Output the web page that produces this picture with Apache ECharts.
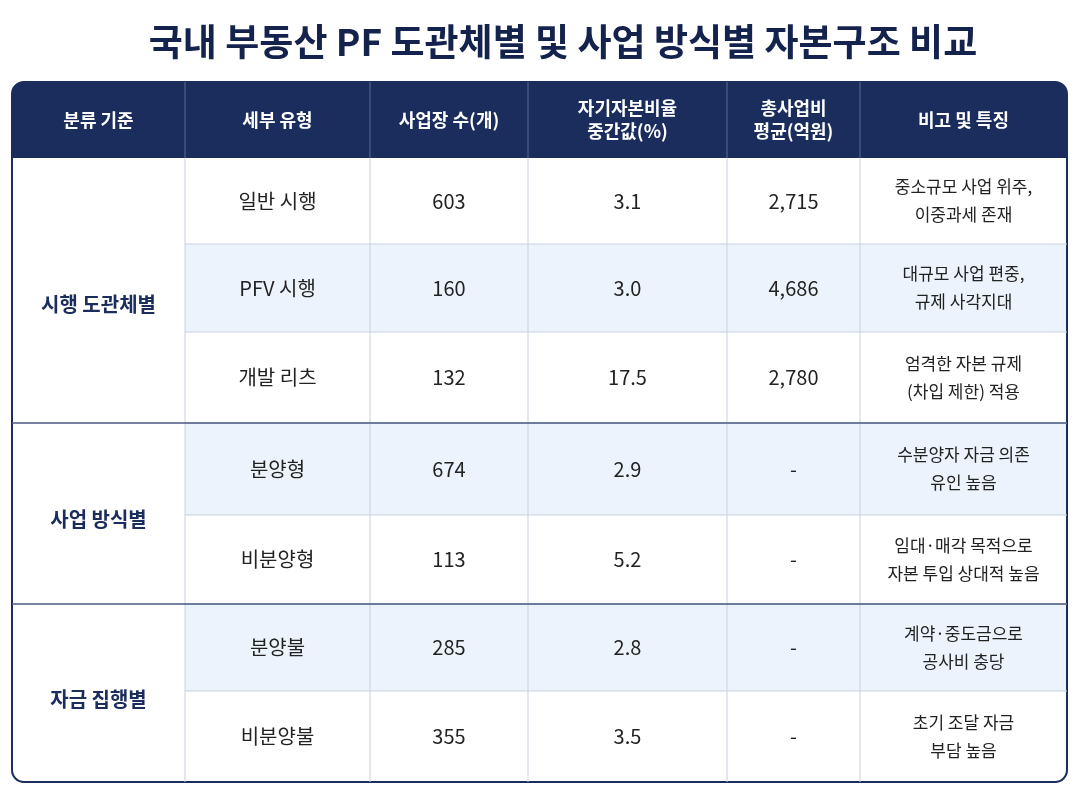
<!DOCTYPE html>
<html><head><meta charset="utf-8">
<script src="https://cdn.jsdelivr.net/npm/echarts@6/dist/echarts.min.js"></script>
<style>html,body{margin:0;padding:0;background:#fff}#c{width:1080px;height:810px}</style>
</head><body><div id="c"></div>
<script>
const title = '국내 부동산 PF 도관체별 및 사업 방식별 자본구조 비교';
const headers = ['분류 기준','세부 유형','사업장 수(개)','자기자본비율\n중간값(%)','총사업비\n평균(억원)','비고 및 특징'];
const groups = [['시행 도관체별',3],['사업 방식별',2],['자금 집행별',2]];
const types = ['일반 시행','PFV 시행','개발 리츠','분양형','비분양형','분양불','비분양불'];
const counts = [603,160,132,674,113,285,355];
const equity = ['3.1','3.0','17.5','2.9','5.2','2.8','3.5'];
const cost = ['2,715','4,686','2,780','-','-','-','-'];
const notes = ['중소규모 사업 위주,\n이중과세 존재','대규모 사업 편중,\n규제 사각지대','엄격한 자본 규제\n(차입 제한) 적용','수분양자 자금 의존\n유인 높음','임대·매각 목적으로\n자본 투입 상대적 높음','계약·중도금으로\n공사비 충당','초기 조달 자금\n부담 높음'];

const colX = [12,185,370,528,727,860,1067];
const headTop = 82, headBot = 158;
const rowY = [158,244,332,423,515,604,691,782];
const navy = '#1b2d5c', font = '"Noto Sans CJK KR","Noto Sans",sans-serif';
const g = [];
g.push({type:'rect',shape:{x:12,y:headTop,width:1055,height:rowY[7]-headTop,r:12},style:{fill:'#fff',stroke:navy,lineWidth:2},z:1});
g.push({type:'rect',shape:{x:12,y:headTop,width:1055,height:headBot-headTop,r:[12,12,0,0]},style:{fill:navy},z:2});
headers.forEach((h,i)=>{
  g.push({type:'text',x:(colX[i]+colX[i+1])/2,y:(headTop+headBot)/2,style:{text:h,fill:'#fff',font:'bold 18px '+font,align:'center',verticalAlign:'middle',lineHeight:23},z:5});
  if(i>0) g.push({type:'line',shape:{x1:colX[i],y1:headTop,x2:colX[i],y2:headBot},style:{stroke:'#5a6a90',lineWidth:1},z:3});
});
types.forEach((t,r)=>{
  const y0=rowY[r], y1=rowY[r+1], cy=(y0+y1)/2;
  if(r%2===1) g.push({type:'rect',shape:{x:colX[1],y:y0,width:colX[6]-colX[1]-1,height:y1-y0},style:{fill:'#edf3fc'},z:2});
  const vals=[t,String(counts[r]),equity[r],cost[r],notes[r]];
  vals.forEach((v,i)=>{
    g.push({type:'text',x:(colX[i+1]+colX[i+2])/2,y:cy,style:{text:v,fill:'#222',font:(i===4?'17px ':'20px ')+font,align:'center',verticalAlign:'middle',lineHeight:28},z:5});
  });
  if(r>0) g.push({type:'line',shape:{x1:colX[1],y1:y0,x2:colX[6],y2:y0},style:{stroke:'#c9d1e0',lineWidth:1},z:3});
});
let start=0;
const groupOffset=[14,6,6];
groups.forEach(([name,n],k)=>{
  const y0=rowY[start], y1=rowY[start+n];
  g.push({type:'text',x:(colX[0]+colX[1])/2,y:(y0+y1)/2+groupOffset[k],style:{text:name,fill:navy,font:'bold 20px '+font,align:'center',verticalAlign:'middle'},z:5});
  if(k>0) g.push({type:'line',shape:{x1:colX[0],y1:y0,x2:colX[6],y2:y0},style:{stroke:'#4a5a80',lineWidth:1.5},z:4});
  start+=n;
});
for(let i=1;i<6;i++) g.push({type:'line',shape:{x1:colX[i],y1:headBot,x2:colX[i],y2:rowY[7]},style:{stroke:'#c9d1e0',lineWidth:1},z:3});
const chart = echarts.init(document.getElementById('c'));
chart.setOption({
  title:{text:title,left:558,top:18,textAlign:'center',textStyle:{color:'#14234d',fontSize:37,fontWeight:'bold',fontFamily:font}},
  graphic:g
});
</script></body></html>
